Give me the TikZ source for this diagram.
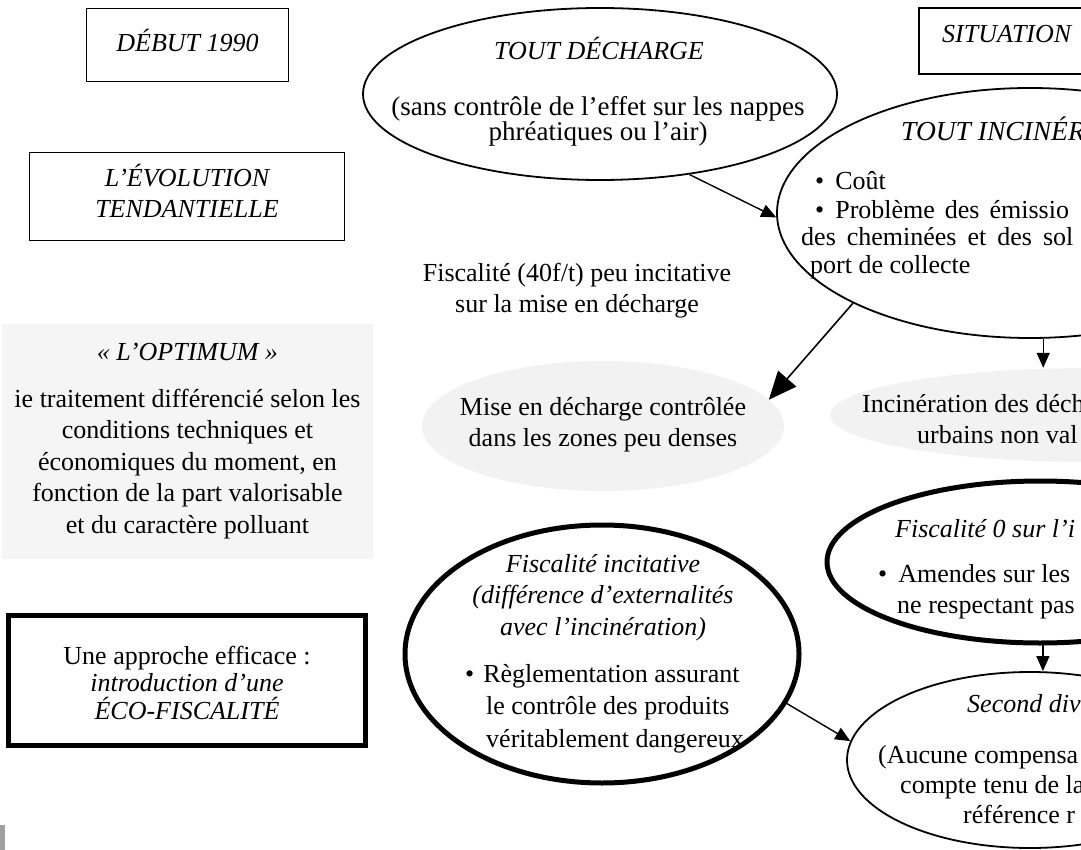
\documentclass[tikz,border=0pt]{standalone}
\usepackage{fontspec}
\setmainfont{Liberation Serif}
\usetikzlibrary{shapes.geometric,arrows.meta}
\definecolor{lightbg}{HTML}{F5F5F5}
\definecolor{ovalbg}{HTML}{F2F2F2}
\definecolor{markgray}{HTML}{A0A0A0}
\tikzset{
  thinbox/.style={draw, line width=1.8pt, inner sep=0pt},
  thickbox/.style={draw, line width=4.5pt, inner sep=0pt},
  oval/.style={ellipse, draw, line width=1.8pt, inner sep=0pt},
  thickoval/.style={ellipse, draw, line width=5pt, inner sep=0pt},
  grayoval/.style={ellipse, fill=ovalbg, inner sep=0pt},
  txt/.style={inner sep=0pt, align=center, anchor=base, font=\fontsize{26}{31.5}\selectfont},
  ltxt/.style={inner sep=0pt, align=left, anchor=base west, font=\fontsize{26}{31.5}\selectfont},
  arr/.style={line width=1.4pt, -{Triangle[length=15pt,width=13pt]}},
  bigarr/.style={line width=1.6pt, -{Triangle[length=28pt,width=24pt]}},
}
\begin{document}
\begin{tikzpicture}[x=1pt,y=-1pt]
\useasboundingbox (0,0) rectangle (1081,850);
\clip (0,0) rectangle (1081,850);
% left column (multi-line nodes: base anchor = baseline of last line)
\node[thinbox, minimum width=202pt, minimum height=73pt] (debut) at (187.5,45) {};
\node[txt] (debutT) at (187.5,52) {\itshape DÉBUT 1990};
\node[thinbox, minimum width=315pt, minimum height=88pt] (evol) at (187,196.5) {};
\node[txt] (evolT) at (187,218) {\itshape L’ÉVOLUTION\\\itshape TENDANTIELLE};
\node[fill=lightbg, inner sep=0pt, minimum width=371pt, minimum height=235pt] (optim) at (187.5,441.5) {};
\node[txt] (optimT) at (187.5,360) {\itshape « L’OPTIMUM »};
\node[txt] (optimB) at (187.5,533) {ie traitement différencié selon les\\conditions techniques et\\économiques du moment, en\\fonction de la part valorisable\\et du caractère polluant};
\node[thickbox, minimum width=357pt, minimum height=130pt] (eco) at (187,680.5) {};
\node[txt, font=\fontsize{26}{27.5}\selectfont] (ecoT) at (187,719) {Une approche efficace :\\\itshape introduction d’une\\\itshape ÉCO-FISCALITÉ};
\node[fill=markgray, inner sep=0pt, minimum width=5pt, minimum height=25pt] (mark) at (2.5,837.5) {};
% top ellipse
\node[oval, minimum width=474pt, minimum height=172pt] (A) at (600,94) {};
\node[txt] (AT) at (599,60) {\itshape TOUT DÉCHARGE};
\node[txt, font=\fontsize{27}{25}\selectfont] (AB) at (598,141) {(sans contrôle de l’effet sur les nappes\\phréatiques ou l’air)};
% situation box
\node[thinbox, minimum width=262pt, minimum height=66pt] (sit) at (1050,41) {};
\node[ltxt] (sitT) at (942,43) {\itshape SITUATION};
% right big ellipse
\node[oval, minimum width=506pt, minimum height=250pt] (B) at (1030,213) {};
\node[ltxt, font=\fontsize{27.5}{31.5}\selectfont] (BT) at (901,141) {\itshape TOUT INCINÉR};
\node[ltxt] (B1) at (815,190) {•\hskip 11pt Coût};
\node[ltxt] (B2) at (815,219) {•\hskip 11pt Problème\hskip 10pt des\hskip 10pt émissio};
\node[ltxt] (B3) at (801,246) {des\hskip 11pt cheminées\hskip 11pt et\hskip 11pt des\hskip 11pt sol};
\node[ltxt] (B4) at (810,273) {port de collecte};
% label fiscalite
\node[txt] (fisc) at (577,312.5) {Fiscalité (40f/t) peu incitative\\sur la mise en décharge};
% gray ellipses
\node[grayoval, minimum width=362pt, minimum height=130pt] (C) at (603,426) {};
\node[txt] (CT) at (603,446.5) {Mise en décharge contrôlée\\dans les zones peu denses};
\node[grayoval, minimum width=520pt, minimum height=94pt] (D) at (1090,415) {};
\node[ltxt] (D1) at (862,412) {Incinération des déch};
\node[ltxt] (D2) at (917,443) {urbains non val};
% thick ellipses
\node[thickoval, minimum width=394pt, minimum height=258pt] (G) at (602,654) {};
\node[txt] (GT) at (603,635) {\itshape Fiscalité incitative\\\itshape (différence d’externalités\\\itshape avec l’incinération)};
\node[ltxt, font=\fontsize{26}{32.5}\selectfont] (GB) at (465,747) {•\hskip 9pt Règlementation assurant\\\hskip 21pt le contrôle des produits\\\hskip 21pt véritablement dangereux};
\node[thickoval, minimum width=426pt, minimum height=162pt] (E) at (1040,562) {};
\node[ltxt] (E1) at (895,537) {\itshape Fiscalité 0 sur l’i};
\node[ltxt] (E2) at (878,582) {•\hskip 11pt Amendes sur les};
\node[ltxt] (E3) at (897,613) {ne respectant pas};
% bottom right ellipse
\node[oval, minimum width=366pt, minimum height=176pt] (F) at (1030,760) {};
\node[ltxt] (F1) at (967,712) {\itshape Second div};
\node[ltxt] (F2) at (878,763) {(Aucune compensa};
\node[ltxt] (F3) at (900,793) {compte tenu de la};
\node[ltxt] (F4) at (963,823) {référence r};
% connectors
\draw[arr] (A.-42) -- (B.181);
\draw[bigarr] (B.207) -- (C.9);
\draw[arr] (B.-84) -- (B.-84 |- D.north);
\draw[arr] (E.-88) -- (E.-88 |- F.north);
\draw[arr] (G.-15) -- (F.174);
\end{tikzpicture}
\end{document}
